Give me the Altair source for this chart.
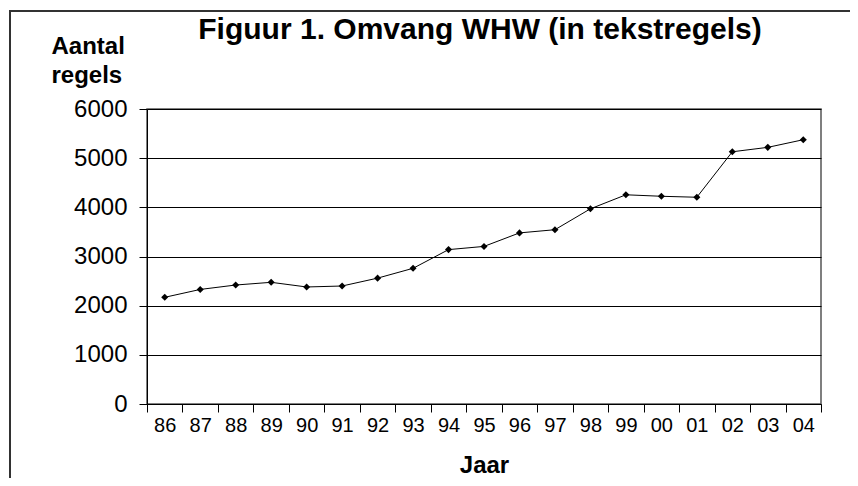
import altair as alt
import pandas as pd

years = ["86", "87", "88", "89", "90", "91", "92", "93", "94", "95",
         "96", "97", "98", "99", "00", "01", "02", "03", "04"]
regels = [2170, 2330, 2420, 2475, 2380, 2400, 2560, 2760, 3140, 3205,
          3480, 3545, 3970, 4255, 4225, 4205, 5130, 5220, 5375]
y_ticks = [0, 1000, 2000, 3000, 4000, 5000, 6000]

df = pd.DataFrame({"jaar": years, "regels": regels})
FONT = "Liberation Sans"

x_enc = alt.X(
    "jaar:N", sort=years,
    scale=alt.Scale(type="band", paddingInner=0, paddingOuter=0),
    axis=alt.Axis(
        title="Jaar", titleFont=FONT, titleFontSize=24, titleFontWeight="bold",
        titleColor="black", titleBaseline="alphabetic", titleY=68,
        labelFont=FONT, labelFontSize=20, labelColor="black", labelAngle=0,
        labelPadding=3, tickBand="extent", tickSize=8, tickColor="black",
        domainColor="black", grid=False,
    ),
)
y_enc = alt.Y(
    "regels:Q",
    scale=alt.Scale(domain=[0, 6000], nice=False),
    axis=alt.Axis(
        values=y_ticks, format="d",
        title=["Aantal", "regels"], titleAngle=0, titleAlign="left",
        titleBaseline="alphabetic", titleX=-96, titleY=-56, titleLineHeight=29,
        titleFont=FONT, titleFontSize=24, titleFontWeight="bold", titleColor="black",
        labelFont=FONT, labelFontSize=24, labelColor="black", labelPadding=12,
        tickSize=8, tickColor="black", domainColor="black",
        grid=True, gridColor="black", gridOpacity=1, gridWidth=1,
    ),
)

line = alt.Chart(df).mark_line(color="black", strokeWidth=1).encode(x=x_enc, y=y_enc)
pts = alt.Chart(df).mark_point(shape="diamond", filled=True, color="black",
                               size=50, opacity=1).encode(x=x_enc, y=y_enc)
border = alt.Chart(df).mark_rect(filled=False, stroke="#333", strokeWidth=1.2).encode(
    x=alt.value(-137), x2=alt.value(760), y=alt.value(-98), y2=alt.value(420)
)

chart = alt.layer(border, line, pts).properties(
    width=674, height=295,
    autosize=alt.AutoSizeParams(type="none"),
    padding={"left": 139, "top": 101, "right": 29, "bottom": 74},
    title=alt.TitleParams(
        "Figuur 1. Omvang WHW (in tekstregels)", font=FONT, fontSize=30,
        fontWeight="bold", color="black", anchor="middle", baseline="alphabetic",
        frame="group", offset=-59, dx=-4,
    ),
).configure_view(stroke="#555", strokeWidth=1.5)

chart.save("out.html", embed_options={"renderer": "svg", "actions": False})
